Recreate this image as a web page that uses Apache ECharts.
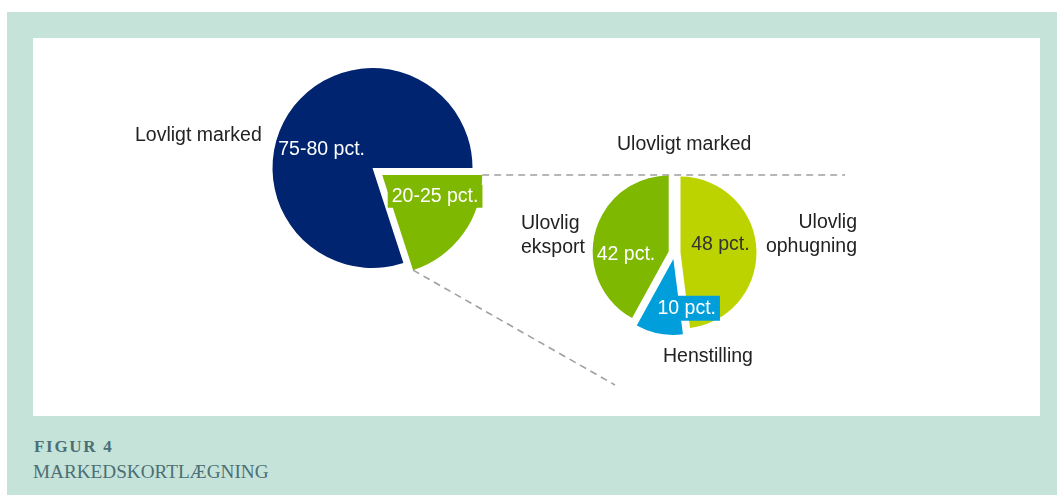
<!DOCTYPE html>
<html>
<head>
<meta charset="utf-8">
<script src="https://cdn.jsdelivr.net/npm/echarts@6/dist/echarts.min.js"></script>
<style>
  html, body { margin: 0; padding: 0; background: #ffffff; }
  #frame { position: absolute; left: 7px; top: 12px; width: 1050px; height: 483px; background: #c6e3da; }
  #panel { position: absolute; left: 33px; top: 38px; width: 1007px; height: 378px; background: #ffffff; }
  #fig { position: absolute; left: 34px; top: 437px; font-family: "Liberation Serif", serif; font-weight: bold;
         font-size: 17px; letter-spacing: 1.7px; color: #4b6f74; }
  #sub { position: absolute; left: 33px; top: 461px; font-family: "Liberation Serif", serif;
         font-size: 19.2px; color: #4b6f74; }
  #chart { position: absolute; left: 0; top: 0; width: 1057px; height: 495px; }
</style>
</head>
<body>
<div id="frame"></div>
<div id="panel"></div>
<div id="fig">FIGUR 4</div>
<div id="sub">MARKEDSKORTLÆGNING</div>
<div id="chart"></div>
<script>
// Overall market: illegal share first so it starts at 3 o'clock
const marketNames  = ['Ulovligt marked', 'Lovligt marked'];
const marketShares = [20, 80];
const marketRanges = ['20-25', '75-80'];

// Breakdown of the illegal market
const illegalNames  = ['Ulovlig ophugning', 'Henstilling', 'Ulovlig eksport'];
const illegalShares = [48, 10, 42];

const colors = {
  navy: '#00246f',
  green: '#7fb800',
  lime: '#bdd300',
  blue: '#009fdb',
  text: '#222222'
};

const FONT = '"Liberation Sans", Arial, sans-serif';
const FS = 19.5;

// Geometry of the two pies
const bigC = [372.5, 168], bigR = 100, bigOff = 12;
const smallC = [674.5, 253], smallR = 76, smallOff = 6;

// Corners of the exploded illegal slice, for the connector lines
const total = marketShares.reduce((a, b) => a + b, 0);
const span = marketShares[0] / total * 2 * Math.PI;
const ox = bigC[0] + bigOff * Math.cos(span / 2);
const oy = bigC[1] + bigOff * Math.sin(span / 2);
const topCorner = [ox + bigR, oy];
const lowCorner = [ox + bigR * Math.cos(span), oy + bigR * Math.sin(span)];

const chart = echarts.init(document.getElementById('chart'), null, { renderer: 'canvas' });

const textStyle = (extra) => Object.assign({ fontFamily: FONT, fontSize: FS, fill: colors.text }, extra);
const [ophugA, ophugB] = illegalNames[0].split(' ');

chart.setOption({
  backgroundColor: 'transparent',
  animation: false,
  graphic: [
    { type: 'line', silent: true, z: 1,
      shape: { x1: topCorner[0], y1: topCorner[1], x2: 845, y2: topCorner[1] },
      style: { stroke: '#a0a0a0', lineWidth: 1.6, lineDash: [7, 5] } },
    { type: 'line', silent: true, z: 1,
      shape: { x1: lowCorner[0], y1: lowCorner[1], x2: 615, y2: 385 },
      style: { stroke: '#a0a0a0', lineWidth: 1.6, lineDash: [7, 5] } },
    { type: 'text', left: 135, top: 126, style: textStyle({ text: marketNames[1] }) },
    { type: 'text', left: 617, top: 135, style: textStyle({ text: marketNames[0] }) },
    { type: 'text', left: 521, top: 212,
      style: textStyle({ text: illegalNames[2].replace(' ', '\n'), lineHeight: 24 }) },
    { type: 'text', right: 200, top: 213, style: textStyle({ text: ophugA }) },
    { type: 'text', right: 200, top: 237, style: textStyle({ text: ophugB }) },
    { type: 'text', left: 663, top: 347, style: textStyle({ text: illegalNames[1] }) }
  ],
  series: [
    {
      name: 'Marked',
      type: 'pie',
      center: bigC,
      radius: [0, bigR],
      startAngle: 0,
      clockwise: true,
      selectedMode: 'single',
      selectedOffset: bigOff,
      emphasis: { disabled: true },
      select: { itemStyle: {} },
      label: {
        show: true,
        position: 'inside',
        fontFamily: FONT,
        fontSize: FS,
        color: '#ffffff',
        formatter: (p) => marketRanges[p.dataIndex] + ' pct.'
      },
      labelLayout: (p) => p.dataIndex === 0 ? { dx: 10, dy: -10 } : { dx: -8, dy: 13 },
      data: marketNames.map((n, i) => ({
        name: n,
        value: marketShares[i],
        selected: i === 0,
        itemStyle: { color: i === 0 ? colors.green : colors.navy },
        label: i === 0
          ? { backgroundColor: colors.green, padding: [2, 4, 1, 4] }
          : {}
      }))
    },
    {
      name: 'Ulovligt marked',
      type: 'pie',
      center: smallC,
      radius: [0, smallR],
      startAngle: 90,
      clockwise: true,
      selectedMode: 'multiple',
      selectedOffset: smallOff,
      emphasis: { disabled: true },
      select: { itemStyle: {} },
      label: {
        show: true,
        position: 'inside',
        fontFamily: FONT,
        fontSize: FS,
        color: '#ffffff',
        formatter: (p) => p.value + ' pct.'
      },
      labelLayout: (p) => [{ dx: -1, dy: -5 }, { dx: 21, dy: 9 }, { dx: -3, dy: 13 }][p.dataIndex],
      data: illegalNames.map((n, i) => ({
        name: n,
        value: illegalShares[i],
        selected: true,
        itemStyle: { color: [colors.lime, colors.blue, colors.green][i] },
        label: [
          { color: '#333333' },
          { backgroundColor: colors.blue, padding: [3, 4, 2, 4] },
          {}
        ][i]
      }))
    }
  ]
});
</script>
</body>
</html>
